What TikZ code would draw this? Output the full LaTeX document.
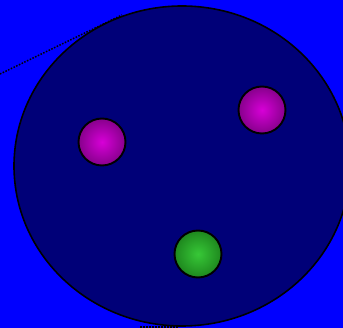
\documentclass[tikz,border=0pt]{standalone}
\usetikzlibrary{shapes.geometric}
\begin{document}
\begin{tikzpicture}[x=1pt,y=-1pt,
  ball/.style={circle,draw=black,line width=1.9pt,minimum size=47pt,inner sep=0pt},
  magball/.style={ball,inner color={rgb,255:red,215;green,0;blue,215},outer color={rgb,255:red,135;green,0;blue,140}},
  grnball/.style={ball,inner color={rgb,255:red,55;green,200;blue,55},outer color={rgb,255:red,30;green,135;blue,30}}]
\definecolor{bg}{RGB}{0,0,255}
\definecolor{navyc}{RGB}{0,0,120}
\fill[bg] (0,0) rectangle (343,328);
\useasboundingbox (0,0) rectangle (343,328);
\coordinate (d1) at (0,74);
\coordinate (d2) at (122,15);
\coordinate (d3) at (140,327);
\coordinate (d4) at (178,327);
\draw[black,dash pattern=on 1.5pt off 1.5pt,line width=1.5pt] (d1) -- (d2);
\draw[black,dash pattern=on 1.5pt off 1.5pt,line width=1.5pt] (d3) -- (d4);
\node[ellipse,draw=black,line width=1.6pt,fill=navyc,minimum width=336pt,minimum height=320pt,inner sep=0pt] (big) at (182,166) {};
\node[magball] (m1) at (102,142) {};
\node[magball] (m2) at (262,110) {};
\node[grnball] (g1) at (198,254) {};
\end{tikzpicture}
\end{document}
